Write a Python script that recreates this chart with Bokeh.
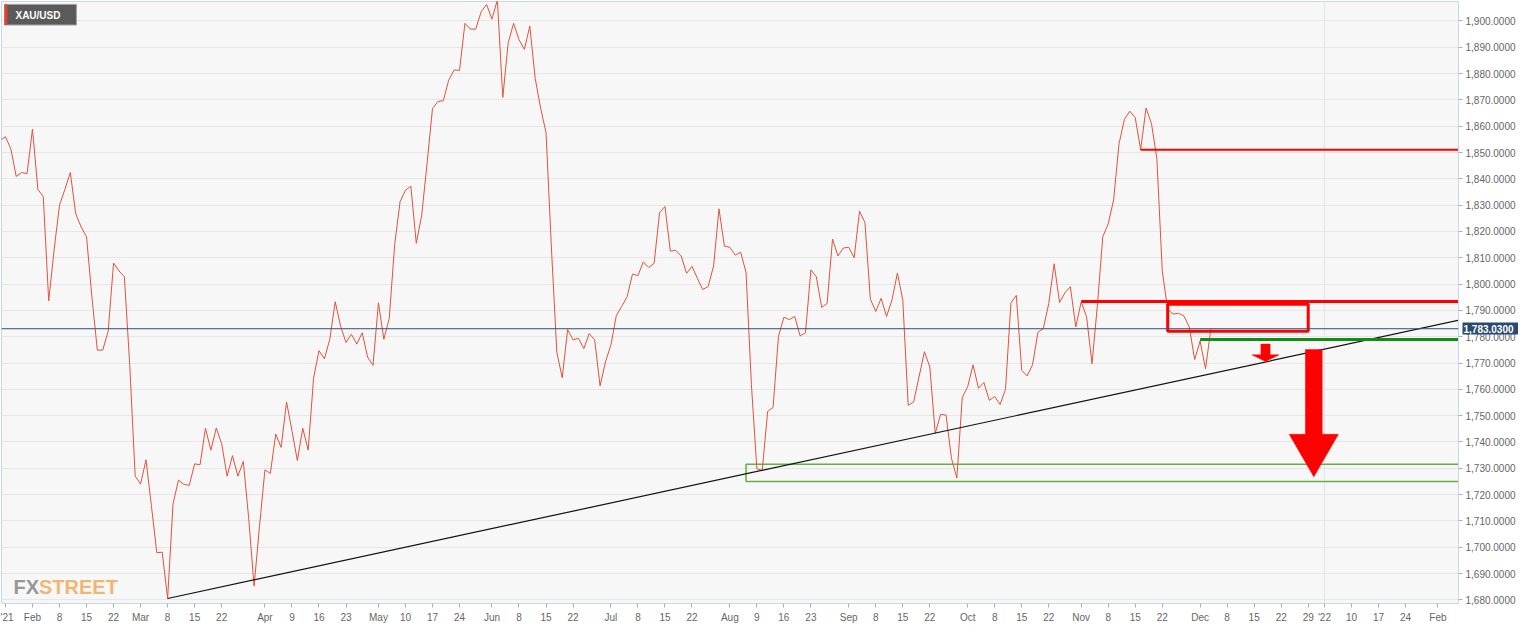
import pandas as pd
from bokeh.plotting import figure
from bokeh.models import (Range1d, Span, FixedTicker, SingleIntervalTicker,
                          NumeralTickFormatter, LinearAxis)
from bokeh.core.properties import value
from bokeh.embed import file_html
from bokeh.resources import INLINE

# ---------------- data ----------------
first_date = "2021-01-22"
holidays = ["2021-04-02"]

jan = [1854.6, 1856.0, 1851.4, 1840.9, 1842.4, 1842.0]
feb = [1858.9, 1836.0, 1833.2, 1793.6, 1813.0, 1830.0, 1836.0, 1842.4, 1826.7, 1821.7,
       1818.0, 1795.0, 1774.9, 1774.9, 1782.0, 1808.0, 1805.0, 1802.8, 1769.0, 1727.0]
mar = [1724.0, 1733.2, 1715.8, 1697.9, 1698.1, 1680.5, 1716.4, 1725.5, 1723.9, 1723.5,
       1731.7, 1731.3, 1745.2, 1736.9, 1745.3, 1739.3, 1727.0, 1734.8, 1727.0, 1732.6,
       1711.0, 1685.2, 1708.0]
apr = [1729.4, 1728.0, 1743.0, 1737.9, 1755.2, 1744.3, 1732.9, 1745.2, 1736.9, 1764.2,
       1774.7, 1771.6, 1779.0, 1793.3, 1784.0, 1777.8, 1780.9, 1777.2, 1781.5, 1772.2,
       1769.1]
may = [1792.9, 1779.0, 1787.0, 1815.0, 1831.3, 1835.7, 1837.2, 1815.5, 1826.1, 1845.9,
       1866.7, 1869.4, 1869.7, 1877.5, 1881.4, 1881.2, 1899.1, 1896.9, 1896.9, 1903.5,
       1906.3]
jun = [1900.7, 1908.0, 1870.9, 1891.7, 1899.1, 1892.9, 1889.2, 1898.1, 1878.1, 1866.9,
       1857.6, 1813.7, 1774.1, 1764.4, 1782.7, 1778.8, 1779.4, 1775.5, 1781.2, 1778.8,
       1761.3, 1770.4]
jul = [1776.8, 1788.0, 1791.5, 1795.2, 1803.8, 1803.2, 1808.4, 1806.3, 1807.9, 1827.1,
       1829.5, 1812.5, 1812.8, 1810.7, 1804.1, 1806.7, 1802.2, 1797.9, 1799.1, 1806.9,
       1828.6, 1814.4]
aug = [1814.0, 1811.0, 1812.1, 1804.5, 1761.7, 1729.8, 1729.2, 1751.6, 1753.1, 1780.1,
       1787.4, 1786.5, 1787.7, 1780.3, 1781.5, 1805.4, 1802.8, 1791.1, 1792.7, 1817.1,
       1810.7, 1813.7]
sep = [1814.0, 1810.0, 1827.7, 1823.4, 1794.3, 1789.6, 1794.6, 1787.7, 1793.9, 1804.2,
       1793.9, 1753.9, 1755.2, 1764.7, 1774.3, 1768.5, 1743.3, 1750.5, 1750.2, 1733.8,
       1726.3, 1756.9]
octo = [1761.0, 1769.3, 1760.4, 1762.6, 1755.8, 1757.3, 1754.2, 1760.0, 1792.8, 1795.7,
        1767.2, 1765.1, 1769.3, 1781.7, 1783.1, 1792.6, 1807.7, 1793.0, 1796.7, 1799.0,
        1783.7]
nov = [1793.2, 1787.6, 1769.7, 1792.0, 1818.0, 1822.9, 1832.0, 1853.3, 1862.6, 1865.7,
       1863.2, 1851.1, 1866.9, 1861.0, 1847.7, 1805.0, 1790.4, 1788.6, 1788.9, 1787.9,
       1783.7, 1771.3]
dec = [1778.4, 1767.8, 1783.03]

prices = jan + feb + mar + apr + may + jun + jul + aug + sep + octo + nov + dec
last_price = 1783.03

tick_dates = ["2021-01-25", "2021-02-01", "2021-02-08", "2021-02-15", "2021-02-22",
              "2021-03-01", "2021-03-08", "2021-03-15", "2021-03-22",
              "2021-04-01", "2021-04-09", "2021-04-16", "2021-04-23",
              "2021-05-03", "2021-05-10", "2021-05-17", "2021-05-24",
              "2021-06-01", "2021-06-08", "2021-06-15", "2021-06-22",
              "2021-07-01", "2021-07-08", "2021-07-15", "2021-07-22",
              "2021-08-02", "2021-08-09", "2021-08-16", "2021-08-23",
              "2021-09-01", "2021-09-08", "2021-09-15", "2021-09-22",
              "2021-10-01", "2021-10-08", "2021-10-15", "2021-10-22",
              "2021-11-01", "2021-11-08", "2021-11-15", "2021-11-22",
              "2021-12-01", "2021-12-08", "2021-12-15", "2021-12-22", "2021-12-29",
              "2022-01-03", "2022-01-10", "2022-01-17", "2022-01-24", "2022-02-01"]
tick_labels = ["'21", "Feb", "8", "15", "22",
               "Mar", "8", "15", "22",
               "Apr", "9", "16", "23",
               "May", "10", "17", "24",
               "Jun", "8", "15", "22",
               "Jul", "8", "15", "22",
               "Aug", "9", "16", "23",
               "Sep", "8", "15", "22",
               "Oct", "8", "15", "22",
               "Nov", "8", "15", "22",
               "Dec", "8", "15", "22", "29",
               "'22", "10", "17", "24", "Feb"]

# analysis drawings (date anchors and price levels)
trend_a = ("2021-03-08", 1680.5)
trend_b = ("2021-08-10", 1729.2)
res_high = ("2021-11-16", 1851.1)
res_mid = ("2021-11-01", 1793.4)
sup_green = ("2021-12-01", 1778.9)
red_box = ("2021-11-23", "2021-12-29", 1782.1, 1792.3)
green_box = ("2021-08-05", 1725.0, 1731.5)
year_line = "2022-01-03"
small_arrow = ("2021-12-17", 1777.2, 1773.1, 1770.6)
big_arrow = ("2021-12-30", 1775.1, 1742.9, 1726.8)

# ---------------- calendar / index ----------------
cal = pd.bdate_range(first_date, "2022-03-01")
cal = cal[~cal.isin(pd.to_datetime(holidays))]
pos = {d.strftime("%Y-%m-%d"): i for i, d in enumerate(cal)}
xs = list(range(len(prices)))

X0, X1 = 0.27, 269.8
Y0, Y1 = 1678.6, 1907.4

def fx(px):
    return X0 + (px - 1) / 1459 * (X1 - X0)

def fy(py):
    return Y1 - (py - 1) / 616 * (Y1 - Y0)

FONT = "Liberation Sans"

p = figure(width=1518, height=625, x_range=Range1d(X0, X1), y_range=Range1d(Y0, Y1),
           output_backend="svg", toolbar_location=None, y_axis_location="right",
           min_border_left=1, min_border_top=1, min_border_right=0, min_border_bottom=0,
           background_fill_color="#f7f7f7", border_fill_color="white",
           outline_line_color="#ccd6eb")

# grid
p.xgrid.grid_line_color = None
p.ygrid.grid_line_color = "#e6e6e6"
p.ygrid.grid_line_width = 1

# axes
ya = p.yaxis[0]
ya.ticker = SingleIntervalTicker(interval=10, num_minor_ticks=0)
ya.formatter = NumeralTickFormatter(format="0,0.0000")
ya.axis_line_color = "#ccd6eb"
ya.major_tick_line_color = "#a8b0bc"
ya.major_tick_out = 4
ya.major_tick_in = 0
ya.minor_tick_line_color = None
ya.major_label_standoff = 3
ya.major_label_text_font = FONT
ya.major_label_text_font_size = "10px"
ya.major_label_text_color = "#666666"

xa = p.xaxis[0]
tick_pos = [pos[d] for d in tick_dates]
xa.ticker = FixedTicker(ticks=tick_pos, minor_ticks=[])
xa.major_label_overrides = {t: l for t, l in zip(tick_pos, tick_labels)}
xa.axis_line_color = "#ccd6eb"
xa.major_tick_line_color = "#a8b0bc"
xa.major_tick_out = 4
xa.major_tick_in = 0
xa.minor_tick_line_color = None
xa.major_label_standoff = 4
xa.major_label_text_font = FONT
xa.major_label_text_font_size = "10px"
xa.major_label_text_color = "#666666"

# last-price badge: an outer right axis with one tick drawn back over the labels
badge = LinearAxis(ticker=FixedTicker(ticks=[last_price], minor_ticks=[]),
                   formatter=NumeralTickFormatter(format="0,0.0000"))
badge.axis_line_color = None
badge.minor_tick_line_color = None
badge.major_tick_out = 0
badge.major_tick_in = 56
badge.major_tick_line_width = 12
badge.major_tick_line_color = "#2b4a6f"
badge.major_tick_line_cap = "butt"
badge.major_label_standoff = -55
badge.major_label_text_font = FONT
badge.major_label_text_font_size = "10px"
badge.major_label_text_font_style = "bold"
badge.major_label_text_color = "white"
p.add_layout(badge, "right")

# year gridline
p.add_layout(Span(location=pos[year_line], dimension="height", line_color="#e3e3e3",
                  line_width=1, level="underlay"))

# green support zone
gx = pos[green_box[0]]
p.quad(left=[gx], right=[X1 + 5], bottom=[green_box[1]], top=[green_box[2]],
       fill_color=None, line_color="#63b146", line_width=1.5)

# price line
p.line(xs, prices, line_color="#e0533d", line_width=1)

# current price line
p.add_layout(Span(location=last_price, dimension="width", line_color="#34507a",
                  line_width=1))

# trendline
ta, tb = pos[trend_a[0]], pos[trend_b[0]]
slope = (trend_b[1] - trend_a[1]) / (tb - ta)
p.line([ta, X1 + 2], [trend_a[1], trend_a[1] + slope * (X1 + 2 - ta)],
       line_color="#111111", line_width=1.2)

# red resistance lines
p.line([pos[res_high[0]], X1 + 2], [res_high[1], res_high[1]], line_color="#ff0000", line_width=2)
p.line([pos[res_mid[0]], X1 + 2], [res_mid[1], res_mid[1]], line_color="#ff0000", line_width=3)

# red box
p.quad(left=[pos[red_box[0]]], right=[pos[red_box[1]]], bottom=[red_box[2]], top=[red_box[3]],
       fill_color=None, line_color="#ff0000", line_width=3)

# green support line
p.line([pos[sup_green[0]], X1 + 2], [sup_green[1], sup_green[1]], line_color="#148c14", line_width=3)

# arrows
def arrow(cx, top, base, tip, sw, hw):
    return ([cx - sw, cx + sw, cx + sw, cx + hw, cx, cx - hw, cx - sw],
            [top, top, base, base, tip, base, base])

ax, ay = arrow(pos[small_arrow[0]] + 0.1, small_arrow[1], small_arrow[2], small_arrow[3], 0.85, 2.5)
p.patch(ax, ay, fill_color="#ff0000", line_color="#ff0000", line_width=0.5)
bx, by = arrow(pos[big_arrow[0]] + 0.03, big_arrow[1], big_arrow[2], big_arrow[3], 1.55, 4.55)
p.patch(bx, by, fill_color="#ff0000", line_color="#ff0000", line_width=0.5)

# symbol badge top-left
p.quad(left=[fx(4)], right=[fx(76)], top=[fy(4)], bottom=[fy(25)],
       fill_color="#5a5a5a", line_color="#9c9c9c", line_width=1)
p.quad(left=[fx(4)], right=[fx(7)], top=[fy(4)], bottom=[fy(25)],
       fill_color="#e0412c", line_color=None)
p.text(x=[fx(15)], y=[fy(15)], text=["XAU/USD"], text_color="white",
       text_font=value(FONT), text_font_size="10px", text_font_style="bold",
       text_baseline="middle", text_align="left")

# watermark
p.text(x=[fx(13)], y=[fy(600)], text=["FX"], text_color="#8a8a8a", text_alpha=0.9,
       text_font=value(FONT), text_font_size="20px", text_font_style="bold",
       text_baseline="alphabetic", text_align="left")
p.text(x=[fx(38.5)], y=[fy(600)], text=["STREET"], text_color="#f0b36b", text_alpha=0.95,
       text_font=value(FONT), text_font_size="20px", text_font_style="bold",
       text_baseline="alphabetic", text_align="left")

open("out.html", "w").write(file_html(p, INLINE))
